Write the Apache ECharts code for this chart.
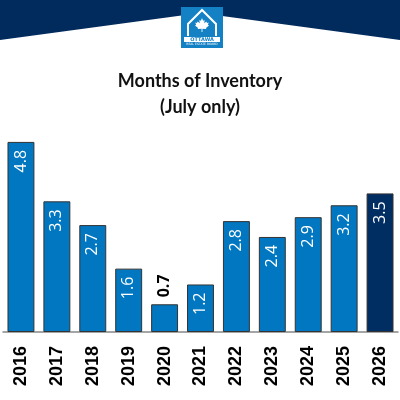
<!DOCTYPE html>
<html>
<head>
<meta charset="utf-8">
<script src="https://cdn.jsdelivr.net/npm/echarts@6/dist/echarts.min.js"></script>
<style>
html, body { margin: 0; padding: 0; background: #fff; }
#main { width: 400px; height: 400px; }
</style>
</head>
<body>
<div id="main"></div>
<script>
var years = ['2016', '2017', '2018', '2019', '2020', '2021', '2022', '2023', '2024', '2025', '2026'];
var months = [4.8, 3.3, 2.7, 1.6, 0.7, 1.2, 2.8, 2.4, 2.9, 3.2, 3.5];

var chart = echarts.init(document.getElementById('main'));

// last year in navy
var barData = months.map(function (v, i) {
    if (i === years.length - 1) {
        return { value: v, itemStyle: { color: '#002d62' } };
    }
    return v;
});

// maple leaf for the logo: left half in a 24 box, mirrored
var leafHalf = [[12, 2], [10.4, 6], [8.2, 4.8], [8.8, 9.4], [5.8, 7], [4.8, 9], [2.4, 8.4],
    [3.6, 11.8], [2, 12.8], [6.4, 16.2], [5.8, 17.8], [11.4, 17.2], [11.4, 22]];
var leafPts = leafHalf.concat(leafHalf.slice(1).reverse().map(function (p) {
    return [24 - p[0], p[1]];
})).map(function (p) {
    return [195 + (p[0] - 2) * 0.7, 18 + (p[1] - 2) * 0.7];
});

// vertical value labels, white inside the bar, black above short bars
function renderValue(params, api) {
    var v = api.value(1);
    var pt = api.coord([api.value(0), v]);
    var inside = v >= 1;
    return {
        type: 'text',
        x: pt[0],
        y: inside ? pt[1] + 8 : pt[1] - 7,
        rotation: Math.PI / 2,
        style: {
            text: v.toFixed(1),
            fill: inside ? '#fff' : '#000',
            fontSize: 16,
            fontFamily: 'Open Sans',
            fontWeight: inside ? 500 : 'bold',
            align: inside ? 'right' : 'left',
            verticalAlign: 'middle'
        }
    };
}

var option = {
    animation: false,
    title: {
        text: 'Months of Inventory\n(July only)',
        left: 'center',
        top: 63,
        textStyle: {
            fontFamily: 'Lato',
            fontSize: 18,
            fontWeight: 'bold',
            color: '#111',
            lineHeight: 26
        }
    },
    graphic: [
        {
            type: 'polygon',
            shape: { points: [[0, 0], [400, 0], [400, 40], [200, 13], [0, 40]] },
            style: { fill: '#002b5c' }
        },
        {
            type: 'rect',
            shape: { x: 181, y: 7, width: 42, height: 41 },
            style: { fill: '#1581c5' }
        },
        {
            type: 'polyline',
            shape: { points: [[188, 36], [188, 24], [202, 10], [216, 24], [216, 36]] },
            style: { stroke: '#fff', lineWidth: 2, fill: null }
        },
        {
            type: 'polygon',
            shape: { points: leafPts },
            style: { fill: '#fff' }
        },
        {
            type: 'rect',
            shape: { x: 184, y: 37, width: 36, height: 5 },
            style: { fill: '#fff' }
        },
        {
            type: 'text',
            x: 202, y: 39.5,
            style: {
                text: 'OTTAWA', fill: '#1581c5', fontSize: 5, fontWeight: 'bold',
                fontFamily: 'DejaVu Sans', align: 'center', verticalAlign: 'middle'
            }
        },
        {
            type: 'text',
            x: 202, y: 44.5,
            style: {
                text: 'REAL ESTATE BOARD', fill: '#fff', fontSize: 3,
                fontFamily: 'DejaVu Sans', align: 'center', verticalAlign: 'middle'
            }
        }
    ],
    grid: {
        left: 3,
        right: 2,
        top: 134,
        bottom: 68,
        containLabel: false
    },
    xAxis: {
        type: 'category',
        data: years,
        axisLine: { lineStyle: { color: '#888', width: 1.5 } },
        axisTick: { alignWithLabel: true, length: 8, lineStyle: { color: '#999', width: 1.5 } },
        axisLabel: {
            rotate: 90,
            margin: 14,
            color: '#000',
            fontSize: 18,
            fontWeight: 'bold',
            fontFamily: 'Liberation Sans',
            interval: 0
        }
    },
    yAxis: {
        type: 'value',
        min: 0,
        max: 5,
        show: false
    },
    series: [{
        name: 'Months of Inventory',
        type: 'bar',
        barCategoryGap: '25%',
        data: barData,
        itemStyle: {
            color: '#0077c0',
            borderColor: '#333',
            borderWidth: 1
        }
    }, {
        name: 'labels',
        type: 'custom',
        renderItem: renderValue,
        data: months.map(function (v, i) { return [i, v]; }),
        encode: { x: 0, y: 1 },
        z: 5
    }]
};

chart.setOption(option);
</script>
</body>
</html>
